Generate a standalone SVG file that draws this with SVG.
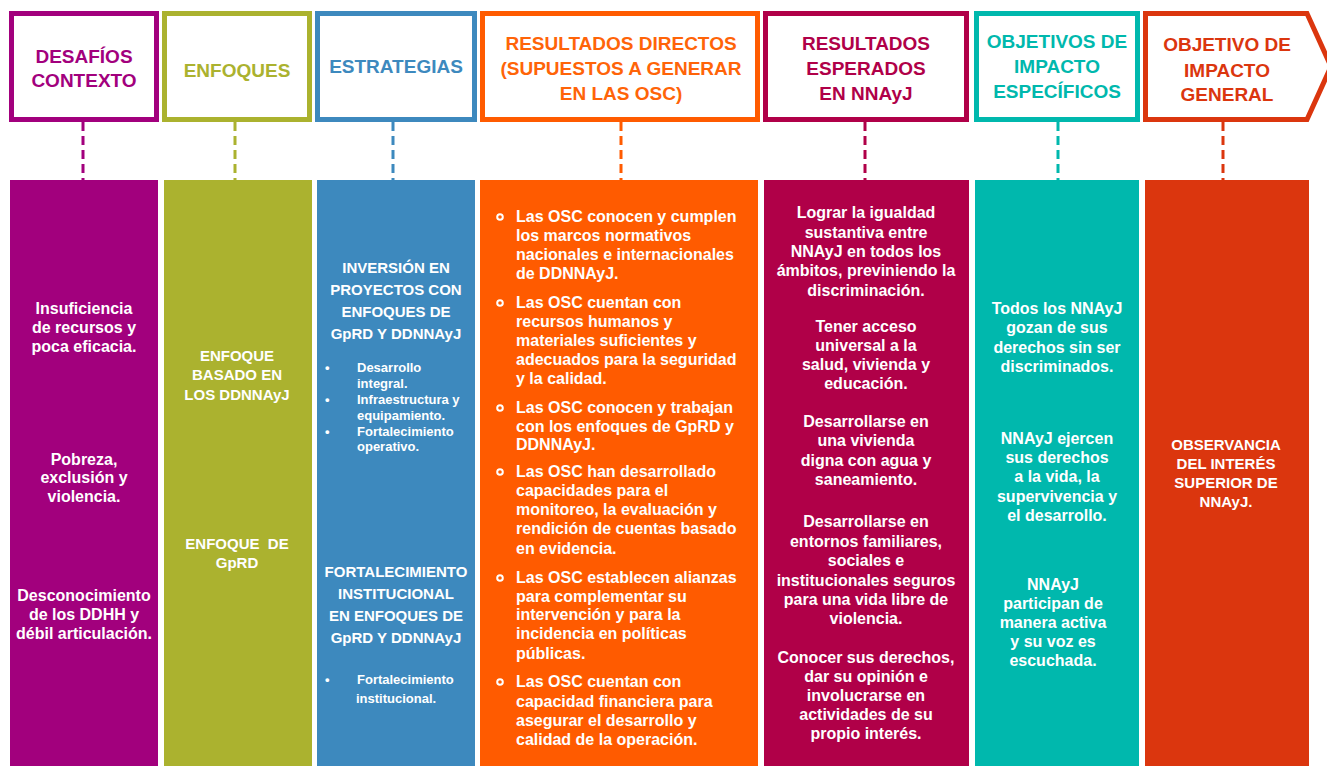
<svg xmlns="http://www.w3.org/2000/svg" width="1327" height="766" viewBox="0 0 1327 766">
<style>
text{font-family:"Liberation Sans",Arial,sans-serif;font-weight:bold;}
.h{font-size:19px;text-anchor:middle;}
.b{font-size:16px;fill:#fff;}
.c{text-anchor:middle;}
.s15{font-size:15px;}
.s13{font-size:13px;}
.hb{fill:#fff;stroke-width:5;}
.dash{fill:none;stroke-width:3;stroke-dasharray:9 5;}
.dot{fill:none;stroke:#fff;stroke-width:2;}
</style>
<rect width="1327" height="766" fill="#fff"/>
<g id="connectors">
<line class="dash" x1="83" y1="122" x2="83" y2="180" stroke="#A2007D"/>
<line class="dash" x1="235" y1="122" x2="235" y2="180" stroke="#ABB22F"/>
<line class="dash" x1="393" y1="122" x2="393" y2="180" stroke="#3D89BE"/>
<line class="dash" x1="621" y1="122" x2="621" y2="180" stroke="#FF5B00"/>
<line class="dash" x1="865" y1="122" x2="865" y2="180" stroke="#B00048"/>
<line class="dash" x1="1058" y1="122" x2="1058" y2="180" stroke="#00B8AD"/>
<line class="dash" x1="1223" y1="122" x2="1223" y2="180" stroke="#DB360E"/>
</g>
<g id="col1">
<rect class="hb" x="11.5" y="13.5" width="145" height="106" stroke="#A2007D"/>
<text class="h" fill="#A2007D"><tspan x="84" y="63">DESAFÍOS</tspan><tspan x="84" y="87">CONTEXTO</tspan></text>
<rect x="10" y="180" width="148" height="586" fill="#A2007D"/>
<text class="b c"><tspan x="84" y="314">Insuficiencia</tspan><tspan x="84" y="333">de recursos y</tspan><tspan x="84" y="352">poca eficacia.</tspan></text>
<text class="b c"><tspan x="84" y="465">Pobreza,</tspan><tspan x="84" y="483">exclusión y</tspan><tspan x="84" y="502">violencia.</tspan></text>
<text class="b c"><tspan x="84" y="601">Desconocimiento</tspan><tspan x="84" y="620">de los DDHH y</tspan><tspan x="84" y="639">débil articulación.</tspan></text>
</g>
<g id="col2">
<rect class="hb" x="164.5" y="13.5" width="145" height="106" stroke="#ABB22F"/>
<text class="h" fill="#ABB22F" x="237" y="77">ENFOQUES</text>
<rect x="164" y="180" width="148" height="586" fill="#ABB22F"/>
<text class="b c s15"><tspan x="237" y="361">ENFOQUE</tspan><tspan x="237" y="380">BASADO EN</tspan><tspan x="237" y="400">LOS DDNNAyJ</tspan></text>
<text class="b c s15" xml:space="preserve"><tspan x="237" y="549">ENFOQUE  DE</tspan><tspan x="237" y="568">GpRD</tspan></text>
</g>
<g id="col3">
<rect class="hb" x="317.5" y="13.5" width="157" height="106" stroke="#3D89BE"/>
<text class="h" fill="#3D89BE" x="396" y="73">ESTRATEGIAS</text>
<rect x="317" y="180" width="158" height="586" fill="#3D89BE"/>
<text class="b c s15"><tspan x="396" y="273">INVERSIÓN EN</tspan><tspan x="396" y="295">PROYECTOS CON</tspan><tspan x="396" y="317">ENFOQUES DE</tspan><tspan x="396" y="339">GpRD Y DDNNAyJ</tspan></text>
<text class="b s13"><tspan x="325" y="372">•</tspan><tspan x="357" y="372">Desarrollo</tspan><tspan x="357" y="388">integral.</tspan><tspan x="325" y="404">•</tspan><tspan x="357" y="404">Infraestructura y</tspan><tspan x="357" y="420">equipamiento.</tspan><tspan x="325" y="436">•</tspan><tspan x="357" y="436">Fortalecimiento</tspan><tspan x="357" y="451">operativo.</tspan></text>
<text class="b c s15"><tspan x="396" y="577">FORTALECIMIENTO</tspan><tspan x="396" y="599">INSTITUCIONAL</tspan><tspan x="396" y="621">EN ENFOQUES DE</tspan><tspan x="396" y="643">GpRD Y DDNNAyJ</tspan></text>
<text class="b s13"><tspan x="325" y="684">•</tspan><tspan x="357" y="684">Fortalecimiento</tspan><tspan x="356" y="703">institucional.</tspan></text>
</g>
<g id="col4">
<rect class="hb" x="482.5" y="13.5" width="275" height="106" stroke="#FF5B00"/>
<text class="h" fill="#FF6408"><tspan x="621" y="50">RESULTADOS DIRECTOS</tspan><tspan x="621" y="75">(SUPUESTOS A GENERAR</tspan><tspan x="621" y="100">EN LAS OSC)</tspan></text>
<rect x="480" y="180" width="278" height="586" fill="#FF5B00"/>
<circle class="dot" cx="500" cy="217" r="2.8"/>
<circle class="dot" cx="500" cy="303" r="2.8"/>
<circle class="dot" cx="500" cy="408" r="2.8"/>
<circle class="dot" cx="500" cy="472" r="2.8"/>
<circle class="dot" cx="500" cy="578" r="2.8"/>
<circle class="dot" cx="500" cy="682" r="2.8"/>
<text class="b"><tspan x="516" y="222">Las OSC conocen y cumplen</tspan><tspan x="516" y="241">los marcos normativos</tspan><tspan x="516" y="260">nacionales e internacionales</tspan><tspan x="516" y="279">de DDNNAyJ.</tspan></text>
<text class="b"><tspan x="516" y="308">Las OSC cuentan con</tspan><tspan x="516" y="327">recursos humanos y</tspan><tspan x="516" y="346">materiales suficientes y</tspan><tspan x="516" y="365">adecuados para la seguridad</tspan><tspan x="516" y="384">y la calidad.</tspan></text>
<text class="b"><tspan x="516" y="413">Las OSC conocen y trabajan</tspan><tspan x="516" y="432">con los enfoques de GpRD y</tspan><tspan x="516" y="450">DDNNAyJ.</tspan></text>
<text class="b"><tspan x="516" y="477">Las OSC han desarrollado</tspan><tspan x="516" y="496">capacidades para el</tspan><tspan x="516" y="515">monitoreo, la evaluación y</tspan><tspan x="516" y="534">rendición de cuentas basado</tspan><tspan x="516" y="554">en evidencia.</tspan></text>
<text class="b"><tspan x="516" y="583">Las OSC establecen alianzas</tspan><tspan x="516" y="602">para complementar su</tspan><tspan x="516" y="620">intervención y para la</tspan><tspan x="516" y="639">incidencia en políticas</tspan><tspan x="516" y="659">públicas.</tspan></text>
<text class="b"><tspan x="516" y="687">Las OSC cuentan con</tspan><tspan x="516" y="707">capacidad financiera para</tspan><tspan x="516" y="726">asegurar el desarrollo y</tspan><tspan x="516" y="745">calidad de la operación.</tspan></text>
</g>
<g id="col5">
<rect class="hb" x="765.5" y="13.5" width="201" height="106" stroke="#B00048"/>
<text class="h" fill="#B00048"><tspan x="866" y="50">RESULTADOS</tspan><tspan x="866" y="75">ESPERADOS</tspan><tspan x="866" y="100">EN NNAyJ</tspan></text>
<rect x="764" y="180" width="205" height="586" fill="#B00048"/>
<text class="b c"><tspan x="866" y="218">Lograr la igualdad</tspan><tspan x="866" y="238">sustantiva entre</tspan><tspan x="866" y="257">NNAyJ en todos los</tspan><tspan x="866" y="276">ámbitos, previniendo la</tspan><tspan x="866" y="296">discriminación.</tspan></text>
<text class="b c"><tspan x="866" y="332">Tener acceso</tspan><tspan x="866" y="351">universal a la</tspan><tspan x="866" y="370">salud, vivienda y</tspan><tspan x="866" y="389">educación.</tspan></text>
<text class="b c"><tspan x="866" y="427">Desarrollarse en</tspan><tspan x="866" y="446">una vivienda</tspan><tspan x="866" y="466">digna con agua y</tspan><tspan x="866" y="485">saneamiento.</tspan></text>
<text class="b c"><tspan x="866" y="527">Desarrollarse en</tspan><tspan x="866" y="547">entornos familiares,</tspan><tspan x="866" y="566">sociales e</tspan><tspan x="866" y="586">institucionales seguros</tspan><tspan x="866" y="605">para una vida libre de</tspan><tspan x="866" y="624">violencia.</tspan></text>
<text class="b c"><tspan x="866" y="663">Conocer sus derechos,</tspan><tspan x="866" y="682">dar su opinión e</tspan><tspan x="866" y="701">involucrarse en</tspan><tspan x="866" y="720">actividades de su</tspan><tspan x="866" y="739">propio interés.</tspan></text>
</g>
<g id="col6">
<rect class="hb" x="976.5" y="13.5" width="161" height="106" stroke="#00B8AD"/>
<text class="h" fill="#00B8AD"><tspan x="1057" y="48">OBJETIVOS DE</tspan><tspan x="1057" y="73">IMPACTO</tspan><tspan x="1057" y="98">ESPECÍFICOS</tspan></text>
<rect x="975" y="180" width="164" height="586" fill="#00B8AD"/>
<text class="b c"><tspan x="1057" y="314">Todos los NNAyJ</tspan><tspan x="1057" y="333">gozan de sus</tspan><tspan x="1057" y="353">derechos sin ser</tspan><tspan x="1057" y="372">discriminados.</tspan></text>
<text class="b c"><tspan x="1057" y="444">NNAyJ ejercen</tspan><tspan x="1057" y="463">sus derechos</tspan><tspan x="1057" y="482">a la vida, la</tspan><tspan x="1057" y="502">supervivencia y</tspan><tspan x="1057" y="521">el desarrollo.</tspan></text>
<text class="b c"><tspan x="1053" y="590">NNAyJ</tspan><tspan x="1053" y="609">participan de</tspan><tspan x="1053" y="628">manera activa</tspan><tspan x="1053" y="647">y su voz es</tspan><tspan x="1053" y="666">escuchada.</tspan></text>
</g>
<g id="col7">
<polygon class="hb" points="1145.5,13.5 1307,13.5 1331,66.5 1307,119.5 1145.5,119.5" stroke="#DB360E"/>
<text class="h" fill="#DB360E"><tspan x="1227" y="51">OBJETIVO DE</tspan><tspan x="1227" y="77">IMPACTO</tspan><tspan x="1227" y="101">GENERAL</tspan></text>
<rect x="1145" y="180" width="164" height="586" fill="#DB360E"/>
<text class="b c s15"><tspan x="1226" y="450">OBSERVANCIA</tspan><tspan x="1226" y="469">DEL INTERÉS</tspan><tspan x="1226" y="488">SUPERIOR DE</tspan><tspan x="1226" y="507">NNAyJ.</tspan></text>
</g>
</svg>
